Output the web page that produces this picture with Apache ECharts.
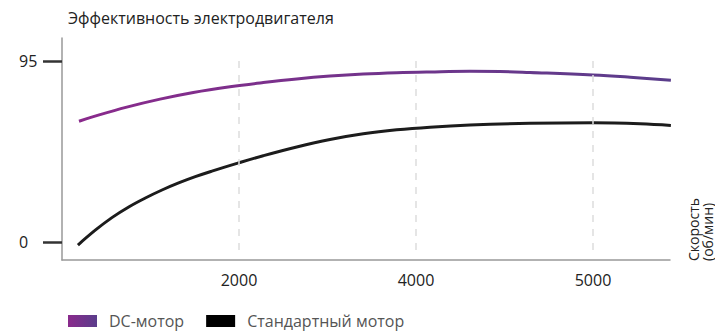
<!DOCTYPE html>
<html>
<head>
<meta charset="utf-8">
<script src="https://cdn.jsdelivr.net/npm/echarts@6/dist/echarts.min.js"></script>
<style>
  html, body { margin: 0; padding: 0; background: #fff; }
  #chart { width: 715px; height: 331px; }
</style>
</head>
<body>
<div id="chart"></div>
<script>
// позиции по оси X (условные единицы: 1 -> 2000, 2 -> 4000, 3 -> 5000)
var xTickPos = [1, 2, 3];
var xTickLabels = ['2000', '4000', '5000'];
var yTickVals = [0, 95];

// DC-мотор
var dcX = [0.096, 0.177, 0.366, 0.554, 0.742, 0.949, 1.137, 1.326, 1.514, 1.702, 1.891, 2.079, 2.305, 2.475, 2.644, 3.0, 3.21, 3.44];
var dcY = [63.4, 65.8, 70.8, 75.0, 78.5, 81.5, 83.7, 85.6, 87.1, 88.2, 88.9, 89.3, 89.6, 89.5, 89.0, 87.7, 86.5, 84.9];
// стандартный мотор
var stdX = [0.09, 0.188, 0.282, 0.377, 0.471, 0.565, 0.659, 0.753, 0.847, 0.993, 1.137, 1.326, 1.514, 1.702, 1.891, 2.079, 2.305, 2.644, 3.0, 3.266, 3.44];
var stdY = [-1.6, 6.2, 12.8, 18.4, 23.1, 27.3, 31.0, 34.3, 37.2, 41.4, 45.3, 49.9, 53.8, 56.8, 58.9, 60.3, 61.4, 62.3, 62.6, 62.1, 61.2];

var seriesNames = ['DC-мотор', 'Стандартный мотор'];
var FONT = '"Open Sans", sans-serif';

function pairs(xs, ys) {
	var out = [];
	for (var i = 0; i < xs.length; i++) {
		out.push([xs[i], ys[i]]);
	}
	return out;
}

var purple = new echarts.graphic.LinearGradient(0, 0, 1, 0, [
	{ offset: 0, color: '#8a2a8c' },
	{ offset: 1, color: '#5a3d8b' }
]);

var myChart = echarts.init(document.getElementById('chart'), null, { renderer: 'svg' });

var option = {
	animation: false,
	title: {
		text: 'Эффективность электродвигателя',
		left: 63,
		top: 5,
		textStyle: { fontFamily: FONT, fontSize: 16, fontWeight: 'normal', color: '#222' }
	},
	grid: { left: 62, right: 45, top: 38, bottom: 71 },
	legend: {
		left: 63,
		top: 308,
		icon: 'rect',
		itemWidth: 29,
		itemHeight: 12,
		itemGap: 22,
		textStyle: { fontFamily: FONT, fontSize: 16, color: '#555', padding: [0, 0, 0, 7] },
		data: [
			{ name: seriesNames[0], itemStyle: { color: purple } },
			{ name: seriesNames[1], itemStyle: { color: '#000' } }
		]
	},
	xAxis: {
		type: 'value',
		min: 0,
		max: 3.435,
		axisLine: { onZero: false, lineStyle: { color: '#999', width: 1.5 } },
		axisTick: { show: false },
		splitLine: { show: false },
		axisLabel: {
			customValues: xTickPos,
			margin: 12,
			fontFamily: FONT,
			fontSize: 16,
			color: '#222',
			formatter: function (v) {
				var i = xTickPos.indexOf(v);
				return i >= 0 ? xTickLabels[i] : '';
			}
		}
	},
	yAxis: {
		type: 'value',
		min: -9.45,
		max: 107.1,
		axisLine: { show: true, onZero: false, lineStyle: { color: '#999', width: 1.5 } },
		axisTick: { show: true, customValues: yTickVals, length: 19, lineStyle: { color: '#333', width: 2.5 } },
		splitLine: { show: false },
		axisLabel: {
			customValues: yTickVals,
			margin: 43,
			align: 'left',
			fontFamily: FONT,
			fontSize: 16,
			color: '#222'
		}
	},
	graphic: [{
		type: 'text',
		x: 686,
		y: 261,
		rotation: Math.PI / 2,
		style: {
			text: 'Скорость\n(об/мин)',
			fontFamily: FONT,
			fontSize: 14,
			lineHeight: 14,
			fill: '#222',
			align: 'left',
			verticalAlign: 'top'
		}
	}],
	series: [{
		name: seriesNames[0],
		type: 'line',
		smooth: 0.4,
		symbol: 'none',
		data: pairs(dcX, dcY),
		lineStyle: { width: 3, color: purple },
		itemStyle: { color: purple },
		z: 3,
		markLine: {
			silent: true,
			symbol: 'none',
			label: { show: false },
			lineStyle: { type: [7, 7], color: '#ddd', width: 1.5 },
			data: xTickPos.map(function (x) {
				return [{ coord: [x, 95] }, { coord: [x, -4.2] }];
			})
		}
	}, {
		name: seriesNames[1],
		type: 'line',
		smooth: 0.4,
		symbol: 'none',
		data: pairs(stdX, stdY),
		lineStyle: { width: 3, color: '#1c1c1c' },
		itemStyle: { color: '#000' },
		z: 3
	}]
};
myChart.setOption(option);
</script>
</body>
</html>
